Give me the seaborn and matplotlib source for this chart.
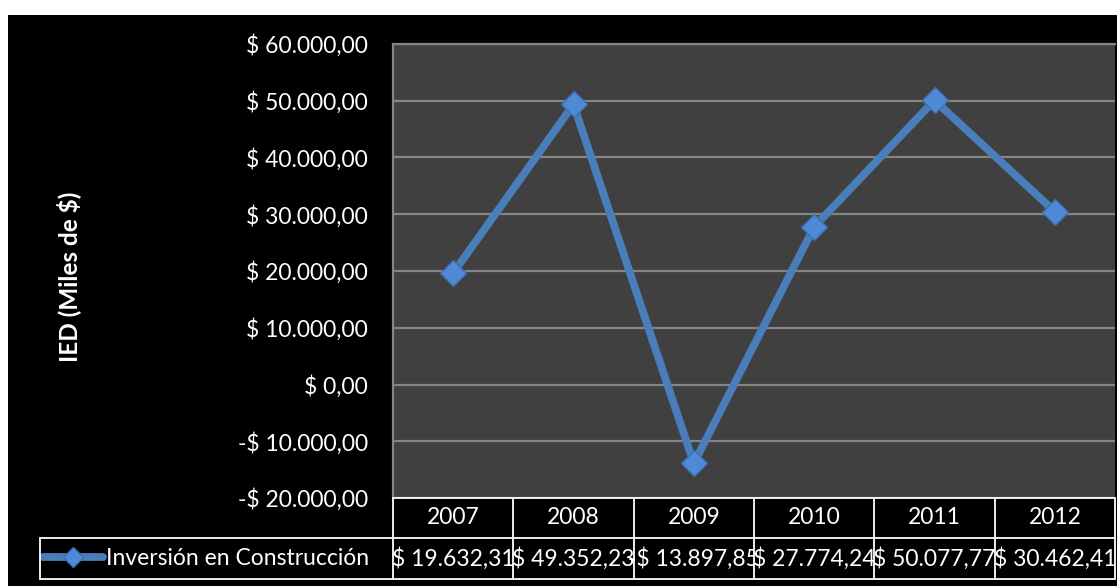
import matplotlib
matplotlib.use("Agg")
import matplotlib.pyplot as plt
import matplotlib.transforms as mtransforms
from matplotlib.patches import Rectangle
from matplotlib.lines import Line2D
import seaborn as sns
import pandas as pd

# ---- data ----
years = ["2007", "2008", "2009", "2010", "2011", "2012"]
values = [19632.31, 49352.23, -13897.85, 27774.24, 50077.77, 30462.41]
series_name = "Inversión en Construcción"
y_label = "IED (Miles de $)"
y_ticks = [-20000, -10000, 0, 10000, 20000, 30000, 40000, 50000, 60000]


def fmt_money(v):
    s = f"{abs(v):,.2f}".replace(",", "X").replace(".", ",").replace("X", ".")
    return ("-$ " if v < 0 else "$ ") + s


W, H = 1117, 586
sns.set_style("dark")
plt.rcParams["font.family"] = ["Lato", "DejaVu Sans"]
FS = 16.5

fig = plt.figure(figsize=(W / 100, H / 100), dpi=100, facecolor="white")
fig.patches.append(Rectangle((8 / W, 0), 1, (H - 15) / H, transform=fig.transFigure,
                             facecolor="black", edgecolor="none", zorder=-10))


def fy(py):
    return (H - py) / H


ax_l, ax_r, ax_t, ax_b = 393, 1115, 44, 498
ax = fig.add_axes([ax_l / W, fy(ax_b), (ax_r - ax_l) / W, (ax_b - ax_t) / H])
ax.set_facecolor("#404040")

df = pd.DataFrame({"Año": years, "Valor": values})
sns.lineplot(data=df, x="Año", y="Valor", ax=ax, color="#4A7EBB", linewidth=5.6,
             marker="D", markersize=13.5, markerfacecolor="#4F8AD6",
             markeredgecolor="#3C6FB0", markeredgewidth=1, label=series_name,
             solid_capstyle="round", solid_joinstyle="miter", zorder=3)

ax.set_xlim(-0.5, len(years) - 0.5)
ax.set_ylim(y_ticks[0], y_ticks[-1])
ax.set_yticks(y_ticks)
ax.set_yticklabels([fmt_money(v) for v in y_ticks], color="white", fontsize=FS)
ax.set_xticks([])
ax.set_xlabel("")
ax.set_ylabel(y_label, color="white", fontsize=17.5, fontweight="bold")
ax.yaxis.set_label_coords(81 / W, fy(277), transform=fig.transFigure)
ax.tick_params(axis="y", length=0, pad=18)
ax.grid(axis="y", color="#858585", linewidth=1.6)
ax.grid(axis="x", visible=False)
for side, sp in ax.spines.items():
    sp.set_visible(side in ("left", "top"))
    sp.set_color("#858585")
    sp.set_linewidth(1.6)

# legend in the table's first column
leg = ax.legend(loc="center left", bbox_to_anchor=(43 / W, fy(558.5)),
                bbox_transform=fig.transFigure, frameon=False, fontsize=FS,
                labelcolor="white", handlelength=2.6, handletextpad=0.15,
                borderpad=0, borderaxespad=0, markerscale=0.75)
for h in leg.legend_handles:
    h.set_solid_capstyle("round")

# ---- data table below ----
blend = mtransforms.blended_transform_factory(ax.transData, fig.transFigure)
lw_tab = 1.3
row_top, row_mid, row_bot = 498, 538, 579
n = len(years)

def hline(x0, x1, py, trans):
    fig.add_artist(Line2D([x0, x1], [fy(py), fy(py)], transform=trans,
                          color="white", linewidth=lw_tab, zorder=5))

def vline(x, py0, py1, trans):
    fig.add_artist(Line2D([x, x], [fy(py0), fy(py1)], transform=trans,
                          color="white", linewidth=lw_tab, zorder=5))

hline(-0.5, n - 0.5, row_top, blend)
hline(40 / W, ax_l / W, row_mid, fig.transFigure)
hline(40 / W, ax_l / W, row_bot, fig.transFigure)
hline(-0.5, n - 0.5, row_mid, blend)
hline(-0.5, n - 0.5, row_bot, blend)
vline(40 / W, row_mid, row_bot, fig.transFigure)
for i in range(n + 1):
    vline(i - 0.5, row_top, row_bot, blend)

for i, (yr, v) in enumerate(zip(years, values)):
    fig.text(i, fy((row_top + row_mid) / 2), yr, transform=blend, ha="center",
             va="center", color="white", fontsize=FS, zorder=6)
    t = fig.text(i, fy((row_mid + row_bot) / 2), fmt_money(v), transform=blend,
                 ha="center", va="center", color="white", fontsize=FS, zorder=6)
    clip = Rectangle((i - 0.5 - 0.09, fy(row_bot)), 1.09 + 0.0,
                     (row_bot - row_mid) / H, transform=blend)
    t.set_clip_path(clip)

fig.savefig("out.png", dpi=100, facecolor="white")
